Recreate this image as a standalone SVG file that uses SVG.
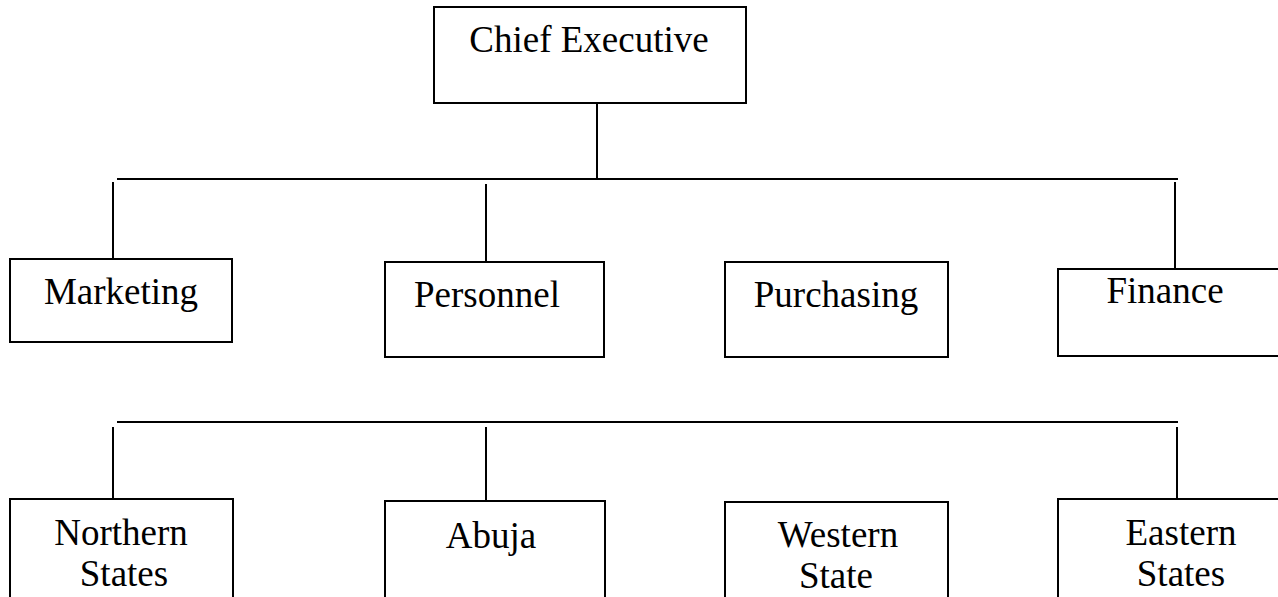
<svg xmlns="http://www.w3.org/2000/svg" width="1278" height="597" viewBox="0 0 1278 597">
<style>
.box{fill:#fff;stroke:#000;stroke-width:2}
.ln{stroke:#000;stroke-width:2;fill:none}
text{font-family:"Liberation Serif","Times New Roman",serif;font-size:37px;fill:#000;text-anchor:middle}
</style>
<rect width="1278" height="597" fill="#fff"/>
<g id="connectors">
<line class="ln" x1="597" y1="103" x2="597" y2="179"/>
<line class="ln" x1="117" y1="179" x2="1178" y2="179"/>
<line class="ln" x1="113" y1="182" x2="113" y2="258"/>
<line class="ln" x1="486" y1="184" x2="486" y2="261"/>
<line class="ln" x1="1175" y1="182" x2="1175" y2="268"/>
<line class="ln" x1="117" y1="422" x2="1178" y2="422"/>
<line class="ln" x1="113" y1="427" x2="113" y2="498"/>
<line class="ln" x1="486" y1="427" x2="486" y2="500"/>
<line class="ln" x1="1177" y1="427" x2="1177" y2="498"/>
</g>
<g id="chief"><rect class="box" x="434" y="7" width="312" height="96"/><text x="589" y="52">Chief Executive</text></g>
<g id="marketing"><rect class="box" x="10" y="259" width="222" height="83"/><text x="121" y="304">Marketing</text></g>
<g id="personnel"><rect class="box" x="385" y="262" width="219" height="95"/><text x="487" y="307">Personnel</text></g>
<g id="purchasing"><rect class="box" x="725" y="262" width="223" height="95"/><text x="836" y="307">Purchasing</text></g>
<g id="finance"><rect class="box" x="1058" y="269" width="230" height="87"/><text x="1165" y="303">Finance</text></g>
<g id="northern"><rect class="box" x="10" y="499" width="223" height="120"/><text x="121" y="545">Northern</text><text x="124" y="586">States</text></g>
<g id="abuja"><rect class="box" x="385" y="501" width="220" height="120"/><text x="491" y="548">Abuja</text></g>
<g id="western"><rect class="box" x="725" y="502" width="223" height="120"/><text x="838" y="547">Western</text><text x="836" y="588">State</text></g>
<g id="eastern"><rect class="box" x="1058" y="499" width="230" height="120"/><text x="1181" y="545">Eastern</text><text x="1181" y="586">States</text></g>
</svg>
